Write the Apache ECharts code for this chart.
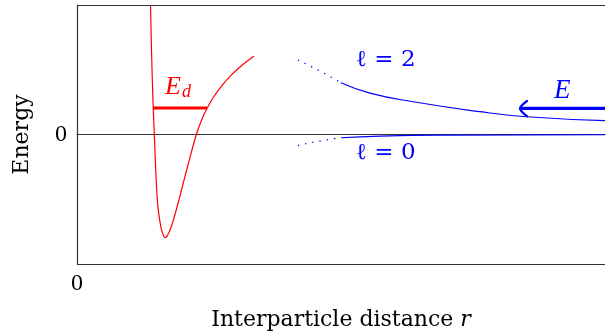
<!DOCTYPE html>
<html>
<head>
<meta charset="utf-8">
<script src="https://cdn.jsdelivr.net/npm/echarts@6/dist/echarts.min.js"></script>
<style>
  html, body { margin: 0; padding: 0; background: #fff; }
  #chart { width: 606px; height: 332px; }
</style>
</head>
<body>
<div id="chart"></div>
<script>
// curves, x = distance (0..10), y = energy (-1..1)
const wellCurve = [
  [1.392, 1.000], [1.411, 0.653], [1.432, 0.344], [1.449, 0.151],
  [1.464, 0.004], [1.483, -0.197], [1.502, -0.367], [1.521, -0.506],
  [1.544, -0.598], [1.572, -0.676], [1.600, -0.734], [1.629, -0.772],
  [1.652, -0.790], [1.672, -0.796], [1.695, -0.791], [1.718, -0.776],
  [1.742, -0.757], [1.780, -0.718], [1.818, -0.672], [1.856, -0.618],
  [1.894, -0.560], [1.938, -0.494], [1.989, -0.413], [2.045, -0.324],
  [2.102, -0.236], [2.159, -0.147], [2.216, -0.062], [2.267, 0.008],
  [2.330, 0.081], [2.396, 0.147], [2.462, 0.201], [2.581, 0.286],
  [2.771, 0.390], [2.917, 0.456], [3.087, 0.521], [3.220, 0.565],
  [3.352, 0.604]
]
const bindLevel = [[1.439, 0.205], [2.462, 0.205]]

const l2Dotted = [[4.186, 0.575], [4.602, 0.49], [5.0, 0.4]]
const l2Solid = [[5.0, 0.4], [5.549, 0.32], [6.369, 0.253], [7.633, 0.176], [8.517, 0.137], [10.0, 0.107]]
const l0Dotted = [[4.186, -0.085], [4.6, -0.05], [5.0, -0.025]]
const l0Solid = [[5.0, -0.025], [5.739, -0.012], [7.064, -0.005], [10.0, -0.002]]

const energyArrow = [[8.39, 0.201], [10.0, 0.201]]
const arrowHead = [[8.52, 0.258], [8.39, 0.201], [8.52, 0.142]]

const chart = echarts.init(document.getElementById('chart'))
const serif = 'DejaVu Serif'
const lib = 'Liberation Serif'
const axisCol = '#333'

chart.setOption({
  animation: false,
  grid: { left: 77, right: 1, top: 5, bottom: 68, outerBoundsMode: 'none' },
  xAxis: {
    type: 'value', min: 0, max: 10, interval: 10,
    axisLine: { show: true, lineStyle: { color: axisCol, width: 1.2 } },
    axisTick: { show: false },
    splitLine: { show: false },
    axisLabel: {
      formatter: v => (v === 0 ? '0' : ''),
      fontFamily: lib, fontSize: 24, color: '#000', margin: 8
    },
    name: '{a|Interparticle distance }{b|r}',
    nameLocation: 'middle',
    nameGap: 45,
    nameTextStyle: {
      rich: {
        a: { fontFamily: serif, fontSize: 22, color: '#000' },
        b: { fontFamily: serif, fontSize: 22, color: '#000', fontStyle: 'italic' }
      }
    }
  },
  yAxis: {
    type: 'value', min: -1, max: 1, interval: 1,
    axisLine: { show: true, lineStyle: { color: axisCol, width: 1.2 } },
    axisTick: { show: false },
    splitLine: { show: true, lineStyle: { color: axisCol, width: 1.2 } },
    axisLabel: {
      formatter: v => (v === 0 ? '0' : ''),
      fontFamily: lib, fontSize: 24, color: '#000', margin: 10
    },
    name: 'Energy',
    nameLocation: 'middle',
    nameGap: 44,
    nameTextStyle: { fontFamily: serif, fontSize: 22, color: '#000' }
  },
  series: [
    {
      type: 'line', data: wellCurve, smooth: 0.3, showSymbol: false,
      lineStyle: { color: '#ff0000', width: 1.2 }
    },
    {
      type: 'line', data: bindLevel, showSymbol: false,
      lineStyle: { color: '#ff0000', width: 3 }
    },
    {
      type: 'line', data: l2Dotted, smooth: true, showSymbol: false,
      lineStyle: { color: '#0000ff', width: 1.3, type: [1.3, 6] }
    },
    {
      type: 'line', data: l2Solid, smooth: true, showSymbol: false,
      lineStyle: { color: '#0000ff', width: 1.2 }
    },
    {
      type: 'line', data: l0Dotted, smooth: true, showSymbol: false,
      lineStyle: { color: '#0000ff', width: 1.3, type: [1.3, 6] }
    },
    {
      type: 'line', data: l0Solid, smooth: true, showSymbol: false,
      lineStyle: { color: '#0000ff', width: 1.2 }
    },
    {
      type: 'line', data: energyArrow, showSymbol: false,
      lineStyle: { color: '#0000ff', width: 3.2 }
    },
    {
      type: 'line', data: arrowHead, smooth: 0.3, showSymbol: false,
      lineStyle: { color: '#0000ff', width: 2.4, cap: 'round', join: 'round' }
    }
  ],
  graphic: [
    {
      type: 'text', left: 165, top: 74,
      style: {
        text: '{e|E}{d|d}',
        rich: {
          e: { fontFamily: lib, fontSize: 26, fontStyle: 'italic', fill: '#ff0000' },
          d: { fontFamily: lib, fontSize: 18, fontStyle: 'italic', fill: '#ff0000', padding: [11, 0, 0, 1] }
        }
      }
    },
    {
      type: 'text', left: 356, top: 49,
      style: { text: 'ℓ = 2', font: '23px "DejaVu Serif"', fill: '#0000ff' }
    },
    {
      type: 'text', left: 356, top: 142,
      style: { text: 'ℓ = 0', font: '23px "DejaVu Serif"', fill: '#0000ff' }
    },
    {
      type: 'text', left: 554, top: 77,
      style: { text: 'E', font: 'italic 27px "Liberation Serif"', fill: '#0000ff' }
    }
  ]
})
</script>
</body>
</html>
